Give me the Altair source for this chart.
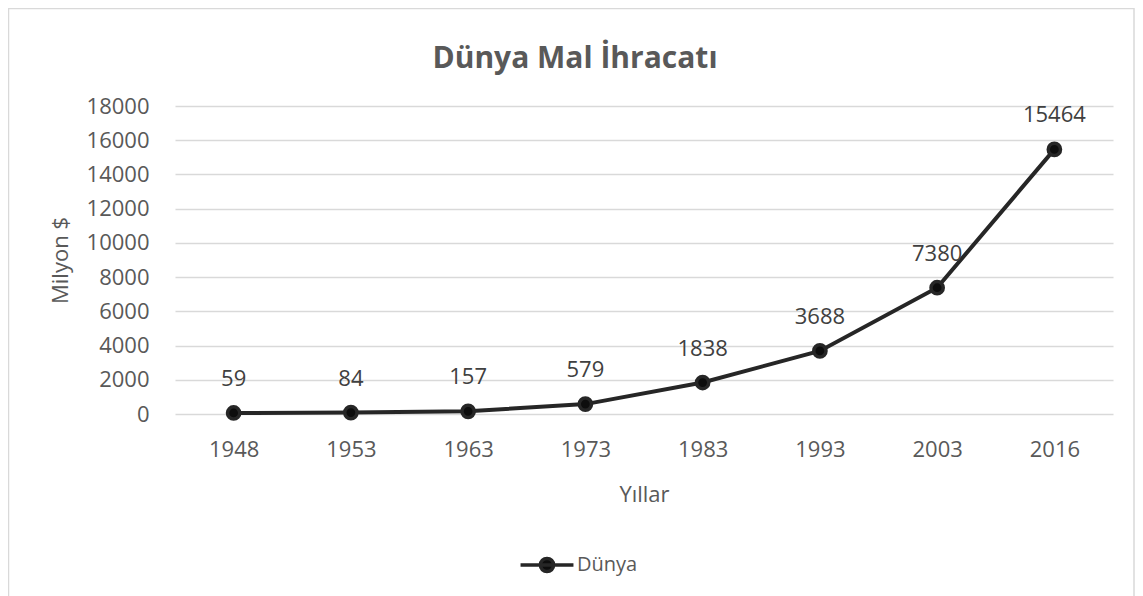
import altair as alt
import pandas as pd

years = ["1948", "1953", "1963", "1973", "1983", "1993", "2003", "2016"]
values = [59, 84, 157, 579, 1838, 3688, 7380, 15464]
series_name = "Dünya"
y_ticks = [0, 2000, 4000, 6000, 8000, 10000, 12000, 14000, 16000, 18000]
title_text = "Dünya Mal İhracatı"

df = pd.DataFrame({"Yıl": years, "Değer": values, "Seri": [series_name] * len(years)})

FONT = "Open Sans"
GRAY = "#595959"
LINE = "#262626"

x_enc = alt.X("Yıl:O", sort=years, title="Yıllar",
              axis=alt.Axis(labelAngle=0, labelFontSize=22, labelColor=GRAY, labelFont=FONT,
                            titleFontSize=22, titleColor=GRAY, titleFont=FONT, titleFontWeight="normal",
                            labelPadding=25, titlePadding=24, ticks=False, domain=False, grid=False))
y_enc = alt.Y("Değer:Q", title="Milyon $",
              scale=alt.Scale(domain=[0, 18000]),
              axis=alt.Axis(values=y_ticks, format="d", labelFontSize=22, labelColor=GRAY, labelFont=FONT,
                            titleFontSize=22, titleColor=GRAY, titleFont=FONT, titleFontWeight="normal",
                            labelPadding=26, titlePadding=14, ticks=False, domain=False,
                            gridColor="#d9d9d9", gridWidth=1.5))

color_enc = alt.Color("Seri:N", scale=alt.Scale(domain=[series_name], range=[LINE]),
                      legend=alt.Legend(title=None, orient="none", legendX=357, legendY=444,
                                        symbolType="M-2,0H2M0.5,0A0.5,0.5 0 1,1 -0.5,0A0.5,0.5 0 1,1 0.5,0Z",
                                        symbolSize=700, symbolStrokeWidth=3.5, symbolOpacity=1,
                                        symbolFillColor="#0d0d0d", symbolStrokeColor=LINE,
                                        labelFontSize=20, labelColor=GRAY, labelFont=FONT,
                                        labelOffset=15))

base = alt.Chart(df)

line = base.mark_line(strokeWidth=4).encode(x=x_enc, y=y_enc, color=color_enc)
points = base.mark_point(filled=True, size=150, strokeWidth=3.5, opacity=1).encode(
    x=x_enc, y=y_enc, fill=alt.value("#0d0d0d"), stroke=alt.value(LINE))
labels = base.mark_text(fontSize=22, font=FONT, color="#404040", baseline="bottom", dy=-22).encode(
    x=x_enc, y=y_enc, text="Değer:Q")

one = alt.Chart(pd.DataFrame({"t": [title_text]}))
title = one.mark_text(fontSize=30, font=FONT, fontWeight="bold", color=GRAY, baseline="middle",
                      align="center").encode(
    x=alt.value(400), y=alt.value(-47), text="t:N")
border = one.mark_rect(fillOpacity=0, stroke="#d9d9d9", strokeWidth=1.5).encode(
    x=alt.value(-166.5), x2=alt.value(959), y=alt.value(-97.5), y2=alt.value(520))

chart = alt.layer(line, points, labels, title, border).properties(
    width=938, height=308,
    padding={"left": 167, "top": 98, "right": 22, "bottom": 182},
    autosize=alt.AutoSizeParams(type="none"),
).configure_view(stroke=None).configure_scale(bandPaddingInner=0, bandPaddingOuter=0)

chart.save("out.html", embed_options={"renderer": "svg", "actions": False})
